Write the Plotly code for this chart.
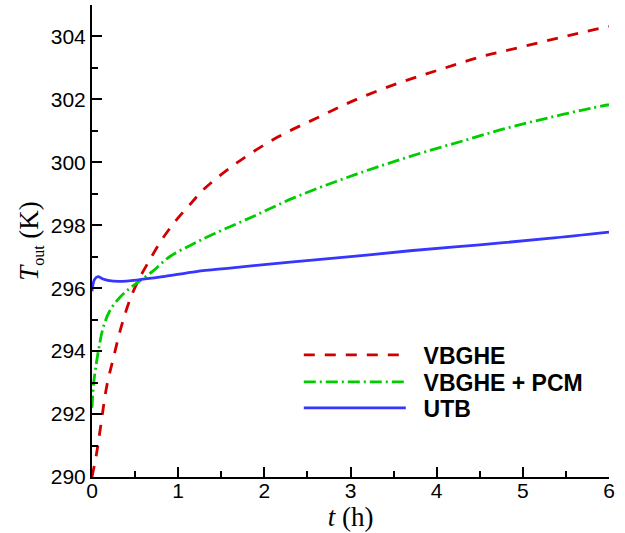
import plotly.graph_objects as go

# VBGHE
t_vbghe = [0, 0.05, 0.1, 0.17, 0.25, 0.34, 0.44, 0.54, 0.67, 0.81, 0.98, 1.15, 1.3, 1.68, 2.14, 2.61, 3.07, 3.57, 4.04, 4.52, 5.02, 5.53, 6.0]
T_vbghe = [290.0, 290.7, 291.6, 292.87, 293.8, 294.78, 295.63, 296.26, 296.9, 297.54, 298.17, 298.7, 299.15, 299.98, 300.78, 301.41, 302.0, 302.53, 302.95, 303.36, 303.69, 304.03, 304.32]

# VBGHE + PCM
t_pcm = [0, 0.02, 0.05, 0.08, 0.13, 0.21, 0.33, 0.44, 0.54, 0.71, 0.9, 1.14, 1.41, 1.87, 2.34, 2.84, 3.3, 3.8, 4.29, 4.79, 5.29, 5.79, 6.0]
T_pcm = [292.2, 293.0, 293.6, 294.1, 294.75, 295.3, 295.73, 296.0, 296.2, 296.55, 297.0, 297.36, 297.72, 298.28, 298.87, 299.4, 299.84, 300.28, 300.67, 301.07, 301.41, 301.72, 301.83]

# UTB
t_utb = [0, 0.03, 0.07, 0.12, 0.2, 0.32, 0.52, 0.83, 1.21, 1.6, 2.3, 3.0, 3.69, 4.5, 5.3, 6.0]
T_utb = [295.9, 296.28, 296.37, 296.3, 296.24, 296.22, 296.26, 296.37, 296.53, 296.64, 296.83, 297.0, 297.19, 297.38, 297.58, 297.78]

x_ticks = [0, 1, 2, 3, 4, 5, 6]
y_ticks = [290, 292, 294, 296, 298, 300, 302, 304]

NB = "\u00a0\u00a0"

fig = go.Figure()
fig.add_trace(go.Scatter(x=t_vbghe, y=T_vbghe, mode="lines", name=NB + "VBGHE", legend="legend",
                         line=dict(color="#d00000", width=2.8, dash="11px,10px", shape="spline")))
fig.add_trace(go.Scatter(x=t_pcm, y=T_pcm, mode="lines", name=NB + "VBGHE + PCM", legend="legend2",
                         line=dict(color="#00cc00", width=2.8, dash="12px,4px,2px,4px", shape="spline")))
fig.add_trace(go.Scatter(x=t_utb, y=T_utb, mode="lines", name=NB + "UTB", legend="legend3",
                         line=dict(color="#3636ff", width=2.8, shape="spline")))

axis_common = dict(
    showline=True, linecolor="black", linewidth=2, mirror=False,
    showgrid=False, zeroline=False,
    ticks="inside", ticklen=10, tickwidth=2, tickcolor="black",
    tickfont=dict(family="Liberation Sans, Arial", size=21, color="black"),
)

leg_font = dict(family="Liberation Sans, Arial", size=23, color="black", weight="bold")
def leg(ypix):
    return dict(x=0.40, y=(477 - ypix) / 472, xanchor="left", yanchor="middle",
                bgcolor="rgba(0,0,0,0)", itemwidth=102, font=leg_font)

fig.update_layout(
    width=625, height=533,
    margin=dict(l=92, r=16, t=5, b=56),
    paper_bgcolor="white", plot_bgcolor="white",
    xaxis=dict(range=[0, 6], tickvals=x_ticks, ticklabelstandoff=-6,
               minor=dict(ticks="inside", ticklen=6, tickwidth=1.5, tickcolor="black", dtick=0.5, showgrid=False),
               title=dict(text="<i>t</i> (h)", font=dict(family="Liberation Serif, Times New Roman", size=27, color="black"), standoff=2),
               **axis_common),
    yaxis=dict(range=[290, 305], tickvals=y_ticks,
               minor=dict(ticks="inside", ticklen=6, tickwidth=1.5, tickcolor="black", dtick=1, showgrid=False),
               title=dict(text="<i>T</i><sub><span style=\"font-size:16px\">out</span></sub> (K)",
                          font=dict(family="Liberation Serif, Times New Roman", size=27, color="black"), standoff=4),
               **axis_common),
    legend=leg(355),
    legend2=leg(382),
    legend3=leg(408),
    showlegend=True,
)

fig.write_html("out.html", config={"displayModeBar": False},
               post_script="document.body.style.margin='0';document.body.style.padding='0';")
